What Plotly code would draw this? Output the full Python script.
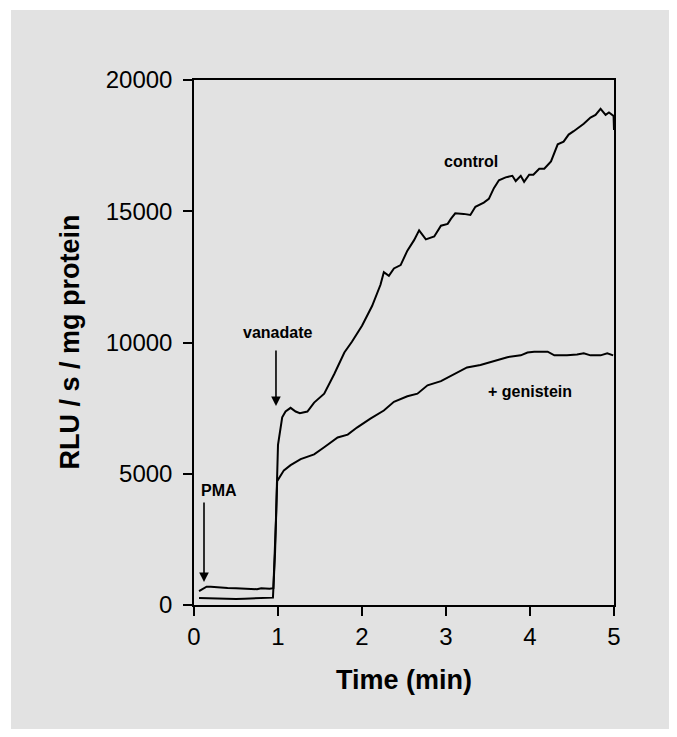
import plotly.graph_objects as go

# ---- data ----
time_control = [0.06, 0.10, 0.15, 0.20, 0.30, 0.40, 0.50, 0.60, 0.70, 0.75, 0.80, 0.90, 0.945,
                0.975, 1.00, 1.02, 1.05, 1.09, 1.15, 1.21, 1.26, 1.35, 1.43, 1.55, 1.67, 1.79,
                1.88, 2.00, 2.12, 2.22, 2.26, 2.32, 2.38, 2.46, 2.54, 2.62, 2.68, 2.76, 2.86,
                2.94, 3.02, 3.06, 3.11, 3.21, 3.29, 3.35, 3.45, 3.51, 3.57, 3.63, 3.71, 3.79,
                3.83, 3.89, 3.93, 3.99, 4.04, 4.11, 4.17, 4.25, 4.33, 4.40, 4.46, 4.52, 4.64,
                4.72, 4.78, 4.84, 4.90, 4.94, 4.995, 5.00]
rlu_control = [530, 620, 700, 700, 670, 650, 640, 630, 620, 600, 640, 620, 640,
               3200, 6100, 6500, 7150, 7370, 7510, 7370, 7310, 7370, 7710, 8050, 8800, 9620,
               10030, 10640, 11390, 12200, 12680, 12540, 12820, 12950, 13500, 13900, 14270, 13930, 14040,
               14450, 14520, 14720, 14920, 14900, 14860, 15170, 15330, 15470, 15880, 16180, 16290, 16350,
               16150, 16350, 16120, 16390, 16390, 16620, 16620, 16900, 17550, 17650, 17920, 18050, 18330,
               18570, 18670, 18900, 18670, 18760, 18630, 18100]

time_genistein = [0.06, 0.15, 0.25, 0.35, 0.50, 0.60, 0.70, 0.80, 0.90, 0.94, 0.965, 0.99,
                  1.07, 1.15, 1.27, 1.43, 1.55, 1.71, 1.83, 1.94, 2.10, 2.26, 2.38, 2.54, 2.66,
                  2.78, 2.94, 3.10, 3.25, 3.41, 3.57, 3.73, 3.89, 3.97, 4.05, 4.21, 4.29, 4.44,
                  4.56, 4.64, 4.72, 4.84, 4.92, 4.99]
rlu_genistein = [270, 260, 250, 240, 230, 240, 245, 250, 260, 280, 2000, 4720,
                 5130, 5330, 5560, 5740, 6010, 6380, 6490, 6760, 7100, 7410, 7740, 7950, 8050,
                 8370, 8530, 8800, 9050, 9140, 9280, 9440, 9510, 9620, 9650, 9650, 9510, 9510,
                 9540, 9590, 9510, 9510, 9590, 9510]

x_ticks = [0, 1, 2, 3, 4, 5]
y_ticks = [0, 5000, 10000, 15000, 20000]

FONT = "Liberation Sans, Arial, sans-serif"
BG = "#e2e2e2"

fig = go.Figure()
fig.add_trace(go.Scatter(x=time_control, y=rlu_control, mode="lines",
                         line=dict(color="black", width=2), name="control"))
fig.add_trace(go.Scatter(x=time_genistein, y=rlu_genistein, mode="lines",
                         line=dict(color="black", width=2), name="+ genistein"))

# gray panel behind everything
fig.add_shape(type="rect", xref="paper", yref="paper",
              x0=-0.4357, x1=1.131, y0=-0.2362, y1=1.1333,
              fillcolor=BG, line=dict(width=0), layer="below")

label_font = dict(family=FONT, size=16, color="black", weight="bold")
ann = [
    dict(x=3.30, y=16900, text="control", showarrow=False, font=label_font),
    dict(x=4.00, y=8150, text="+ genistein", showarrow=False, font=label_font),
    dict(x=0.99, y=10400, text="vanadate", showarrow=False, font=label_font),
    dict(x=0.30, y=4380, text="PMA", showarrow=False, font=label_font),
    # arrows
    dict(x=0.976, y=7580, ax=0.976, ay=9750, axref="x", ayref="y", text="",
         showarrow=True, arrowhead=2, arrowsize=1.2, arrowwidth=1.6, arrowcolor="black"),
    dict(x=0.119, y=876, ax=0.119, ay=3960, axref="x", ayref="y", text="",
         showarrow=True, arrowhead=2, arrowsize=1.2, arrowwidth=1.6, arrowcolor="black"),
    # axis titles
    dict(xref="paper", yref="paper", x=0.5, y=-0.1429, text="Time (min)", showarrow=False,
         xanchor="center", yanchor="middle",
         font=dict(family=FONT, size=27, color="black", weight="bold")),
    dict(xref="paper", yref="paper", x=-0.2976, y=0.5, text="RLU / s / mg protein", showarrow=False,
         textangle=-90, xanchor="center", yanchor="middle",
         font=dict(family=FONT, size=27, color="black", weight="bold")),
]

fig.update_layout(
    width=669, height=729,
    margin=dict(l=186, r=63, t=72, b=132),
    paper_bgcolor="white", plot_bgcolor=BG,
    showlegend=False,
    annotations=ann,
    font=dict(family=FONT, color="black"),
)
fig.update_xaxes(range=[0, 5], tickvals=x_ticks, ticktext=[str(v) for v in x_ticks],
                 ticks="outside", ticklen=9, tickwidth=1.5, tickcolor="black",
                 showline=True, linecolor="black", linewidth=1.5, mirror=True,
                 showgrid=False, zeroline=False,
                 tickfont=dict(family=FONT, size=24, color="black"))
fig.update_yaxes(range=[0, 20000], tickvals=y_ticks, ticktext=[str(v) for v in y_ticks],
                 ticks="outside", ticklen=9, tickwidth=1.5, tickcolor="black",
                 showline=True, linecolor="black", linewidth=1.5, mirror=True,
                 showgrid=False, zeroline=False, ticklabelstandoff=6,
                 tickfont=dict(family=FONT, size=24, color="black"))

fig.write_html("out.html")
